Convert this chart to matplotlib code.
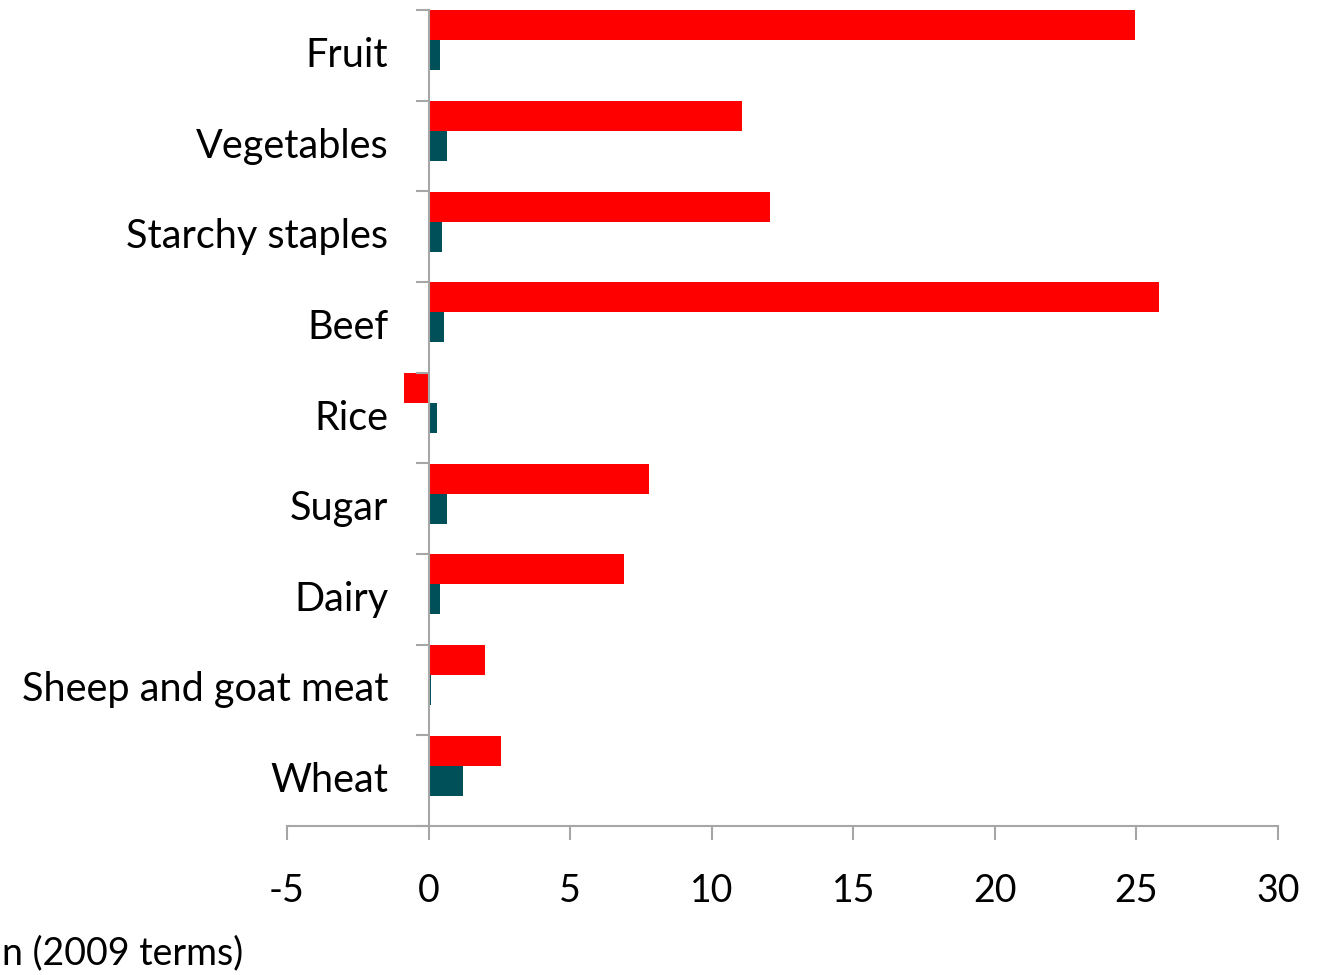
import numpy as np
import matplotlib.pyplot as plt

plt.rcParams['font.family'] = ['Lato', 'DejaVu Sans']

categories = ['Fruit', 'Vegetables', 'Starchy staples', 'Beef', 'Rice',
              'Sugar', 'Dairy', 'Sheep and goat meat', 'Wheat']
red_vals = [24.95, 11.08, 12.05, 25.8, -0.88, 7.8, 6.9, 2.0, 2.55]
teal_vals = [0.4, 0.64, 0.47, 0.53, 0.3, 0.64, 0.4, 0.07, 1.2]
x_ticks = [-5, 0, 5, 10, 15, 20, 25, 30]

fig = plt.figure(figsize=(13.22, 9.75), dpi=100)
ax = fig.add_axes([287/1322, 1 - 826/975, (1278-287)/1322, (826-10)/975])

y = np.arange(len(categories))
h = 0.33
ax.barh(y - h, red_vals, height=h, color='#FF0000', align='center')
ax.barh(y, teal_vals, height=h, color='#00505A', align='center')

ax.set_xlim(-5, 30)
ax.set_ylim(len(categories) - 0.5, -0.5)

grey = '#A6A6A6'
for s in ['top', 'right', 'left']:
    ax.spines[s].set_visible(False)
ax.spines['bottom'].set_color(grey)
ax.spines['bottom'].set_linewidth(1.5)
ax.axvline(0, color=grey, lw=1.5, zorder=3)

ax.set_xticks(x_ticks)
ax.set_xticklabels([str(t) for t in x_ticks])
ax.tick_params(axis='x', direction='out', length=10, width=1.5, color=grey,
               labelsize=27, pad=24)

# no y ticks on the frame; the category axis sits at x=0
ax.set_yticks([])
for b in np.arange(len(categories) + 1) - 0.5:
    ax.plot([-0.42, 0], [b, b], color=grey, lw=1.5, clip_on=False, zorder=3)
for i, cat in enumerate(categories):
    ax.annotate(cat, xy=(0, i), xytext=(-29, 0), textcoords='offset points',
                ha='right', va='center', fontsize=28.5)

fig.text(243/1322, 1 - 953/975, 'n (2009 terms)', ha='right', va='center',
         fontsize=27)

fig.savefig('out.png', dpi=100)
